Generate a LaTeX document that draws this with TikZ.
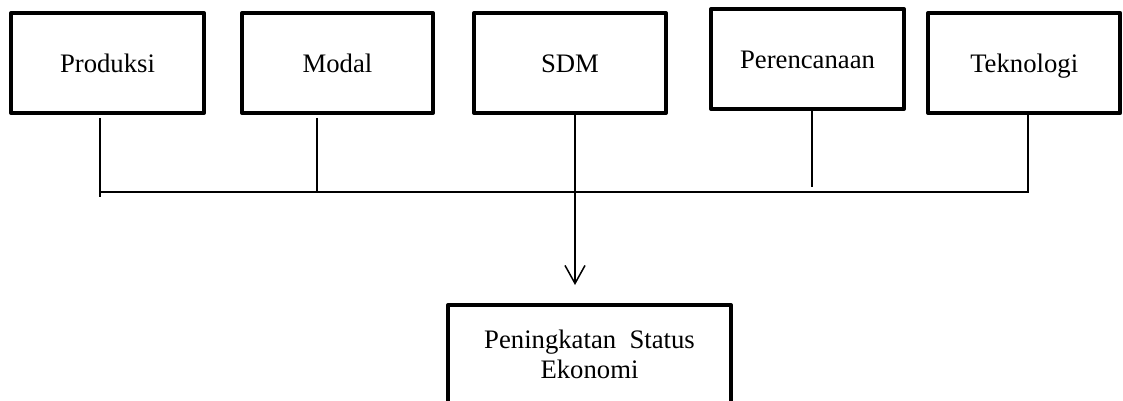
\documentclass[tikz,border=0pt]{standalone}
\usepackage{fontspec}
\setmainfont{Liberation Serif}
\usetikzlibrary{arrows.meta}
\begin{document}
\begin{tikzpicture}[x=1pt,y=-1pt,
  box/.style={draw,line width=4pt,line join=round,minimum width=192pt,minimum height=100pt,inner sep=0pt,
    text height=24pt,text depth=4pt,font=\fontsize{26.7}{29}\selectfont},
  conn/.style={line width=1.5pt},
  arr/.style={line width=1.5pt,-{Straight Barb[length=18pt,width=20pt,line width=1.5pt]}}]
\useasboundingbox (0,0) rectangle (1123,401);
\clip (0,0) rectangle (1123,401);
\node[box,minimum width=193pt] (prod) at (107.5,63) {Produksi};
\node[box,minimum width=191pt] (modal) at (337.5,63) {Modal};
\node[box] (sdm) at (570,63) {SDM};
\node[box,minimum width=193pt] (ren) at (807.5,59) {Perencanaan};
\node[box] (tek) at (1024.2,63) {Teknologi};
\node[draw,line width=4pt,line join=round,minimum width=283pt,minimum height=130pt,inner sep=0pt] (ekon) at (589.5,370) {};
\node[font=\fontsize{26.7}{30}\selectfont,align=center,inner sep=0pt,anchor=base] (ekontext) at (589.5,378) {Peningkatan\ \ Status\\Ekonomi};
\coordinate (j) at (575,192);
\coordinate (bl) at (100,192);
\coordinate (br) at (1028,192);
\draw[conn] ([xshift=-7.5pt,yshift=-3pt]prod.south) -- ++(0,79);
\draw[conn] ([xshift=-20.5pt,yshift=-3pt]modal.south) -- ++(0,75);
\draw[conn] ([xshift=4.5pt]ren.south) -- ++(0,76);
\draw[conn] ([xshift=3.8pt]tek.south) -- ++(0,78);
\draw[conn] (bl) -- (br);
\draw[conn] (sdm.south -| j) -- (j);
\draw[arr] (j) -- ([yshift=18pt]ekon.north -| j);
\end{tikzpicture}
\end{document}
